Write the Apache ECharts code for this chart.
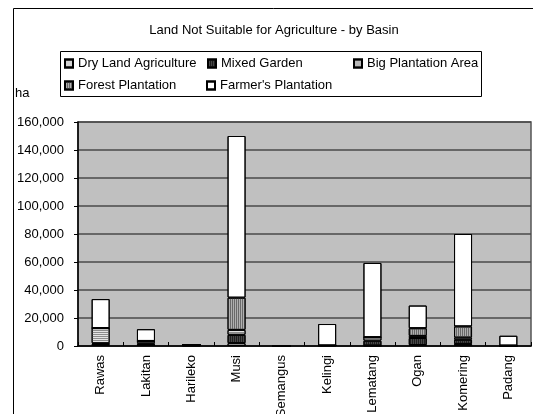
<!DOCTYPE html>
<html>
<head>
<meta charset="utf-8">
<script src="https://cdn.jsdelivr.net/npm/echarts@6/dist/echarts.min.js"></script>
<style>
  html, body { margin: 0; padding: 0; background: #ffffff; }
  #chart { width: 533px; height: 414px; }
</style>
</head>
<body>
<div id="chart"></div>
<script>
// Basins along the x axis
const basins = ['Rawas', 'Lakitan', 'Harileko', 'Musi', 'Semangus', 'Kelingi', 'Lematang', 'Ogan', 'Komering', 'Padang'];

// Area (ha) of land not suitable for agriculture, per land use
const dryLandAgriculture = [1500, 700, 300, 2000, 0, 400, 300, 700, 1500, 300];
const mixedGarden        = [500, 1200, 700, 6000, 0, 0, 3500, 5000, 3000, 0];
const bigPlantationArea  = [10800, 1700, 0, 3500, 0, 0, 2500, 1500, 1500, 0];
const forestPlantation   = [0, 0, 0, 23000, 0, 0, 0, 5500, 8000, 0];
const farmersPlantation  = [20700, 8400, 0, 115500, 0, 15300, 53000, 16200, 66000, 7000];

// Value axis ticks
const yTicks = [0, 20000, 40000, 60000, 80000, 100000, 120000, 140000, 160000];

const FONT = 'Liberation Sans, Arial, sans-serif';

const noDecal = { symbol: 'none' };
const stripes = (vertical, color) => ({
  symbol: 'rect',
  symbolSize: 1,
  rotation: 0,
  symbolKeepAspect: false,
  dashArrayX: vertical ? [1, 1] : [4, 0],
  dashArrayY: vertical ? [4, 0] : [1, 1],
  color: color
});

const seriesDefs = [
  { name: 'Dry Land Agriculture', data: dryLandAgriculture, color: '#d4d4d4', decal: noDecal },
  { name: 'Mixed Garden', data: mixedGarden, color: '#484848', decal: stripes(true, '#1e1e1e') },
  { name: 'Big Plantation Area', data: bigPlantationArea, color: '#e4e4e4', decal: stripes(false, '#8c8c8c') },
  { name: 'Forest Plantation', data: forestPlantation, color: '#b0b0b0', decal: stripes(true, '#6a6a6a') },
  { name: "Farmer's Plantation", data: farmersPlantation, color: '#ffffff', decal: noDecal }
];

const series = seriesDefs.map(s => ({
  name: s.name,
  type: 'bar',
  stack: 'total',
  barWidth: 18,
  data: s.data,
  itemStyle: { color: s.color, borderColor: '#000000', borderWidth: 1, decal: s.decal },
  emphasis: { disabled: true }
}));

// One legend block per entry so the entries sit in a two-row grid
const legendSpots = [
  { name: 'Dry Land Agriculture', left: 64, top: 57 },
  { name: 'Mixed Garden', left: 207, top: 57 },
  { name: 'Big Plantation Area', left: 353, top: 57 },
  { name: 'Forest Plantation', left: 64, top: 79 },
  { name: "Farmer's Plantation", left: 206, top: 79 }
];

const legends = legendSpots.map(l => ({
  data: [l.name],
  left: l.left,
  top: l.top,
  padding: 0,
  itemWidth: 8,
  itemHeight: 8,
  icon: 'rect',
  selectedMode: false,
  textStyle: { fontFamily: FONT, fontSize: 13, color: '#000000' }
}));

const chart = echarts.init(document.getElementById('chart'), null, { renderer: 'canvas' });

chart.setOption({
  animation: false,
  backgroundColor: '#ffffff',
  aria: { enabled: true, decal: { show: true } },
  legend: legends,
  graphic: [
    { type: 'rect', z: 0, silent: true, shape: { x: 13.5, y: 8.5, width: 600, height: 500 },
      style: { fill: 'none', stroke: '#000000', lineWidth: 1 } },
    { type: 'rect', z: 1, shape: { x: 60.5, y: 51.5, width: 421, height: 45 },
      style: { fill: '#ffffff', stroke: '#000000', lineWidth: 1 } },
    { type: 'text', z: 2, x: 274, y: 30,
      style: { text: 'Land Not Suitable for Agriculture - by Basin', fontFamily: FONT, fontSize: 13,
               fill: '#000000', textAlign: 'center', textVerticalAlign: 'middle' } },
    { type: 'text', z: 2, x: 15, y: 93,
      style: { text: 'ha', fontFamily: FONT, fontSize: 13, fill: '#000000', textVerticalAlign: 'middle' } }
  ],
  grid: {
    left: 78, top: 122, width: 453, height: 224,
    containLabel: false,
    outerBoundsMode: 'none',
    show: true, backgroundColor: '#c0c0c0', borderColor: '#555555', borderWidth: 1.5
  },
  xAxis: {
    type: 'category',
    data: basins,
    axisLine: { lineStyle: { color: '#000000', width: 1.5 } },
    axisTick: { show: true, inside: true, length: 4, lineStyle: { color: '#000000' } },
    axisLabel: { rotate: 90, margin: 9, fontFamily: FONT, fontSize: 13, color: '#000000' }
  },
  yAxis: {
    type: 'value',
    min: yTicks[0],
    max: yTicks[yTicks.length - 1],
    interval: yTicks[1] - yTicks[0],
    axisLine: { show: true, lineStyle: { color: '#000000', width: 1.5 } },
    axisTick: { show: true, length: 4, lineStyle: { color: '#000000' } },
    splitLine: { show: true, lineStyle: { color: '#4a4a4a', width: 1.5 } },
    axisLabel: {
      margin: 14, fontFamily: FONT, fontSize: 13, color: '#000000',
      formatter: v => v.toLocaleString('en-US')
    }
  },
  series: series
});
</script>
</body>
</html>
